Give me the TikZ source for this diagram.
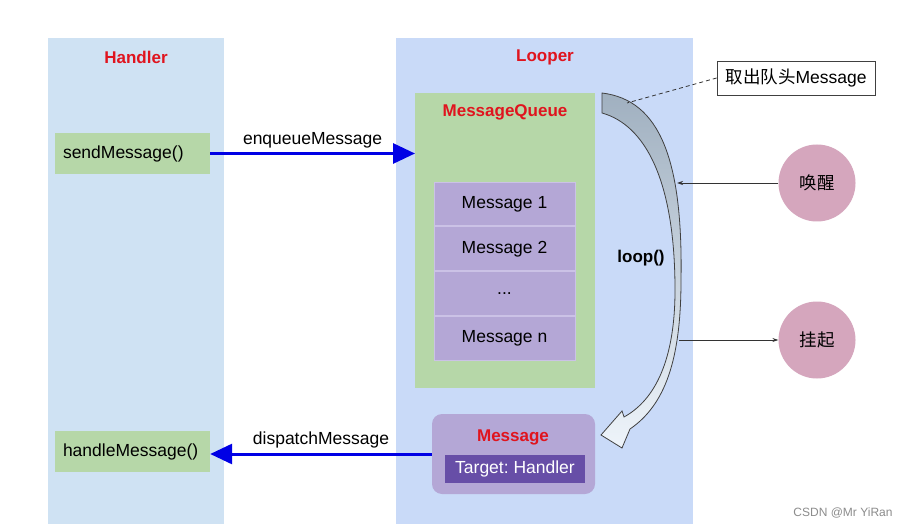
\documentclass[tikz,border=0pt]{standalone}
\usepackage{fontspec}
\setmainfont{Liberation Sans}
\newfontfamily\cjk{Noto Sans CJK SC}
\usetikzlibrary{arrows.meta, positioning}
\usepackage{xcolor}
\definecolor{handlerblue}{HTML}{CFE2F3}
\definecolor{looperblue}{HTML}{C9DAF8}
\definecolor{boxgreen}{HTML}{B6D7A8}
\definecolor{msgpurple}{HTML}{B4A7D6}
\definecolor{msglight}{HTML}{CBC2E6}
\definecolor{darkpurple}{HTML}{674EA7}
\definecolor{titlered}{HTML}{E0141E}
\definecolor{wakepink}{HTML}{D5A6BD}
\definecolor{looptop}{HTML}{A0B0C0}
\definecolor{loopbottom}{HTML}{EEF4FA}
\frenchspacing

\begin{document}
\begin{tikzpicture}[
    x=1pt, y=-1pt,
    font=\fontsize{17.5}{20}\selectfont,
    panel/.style={rectangle, anchor=north west, inner sep=0pt},
    title/.style={font=\fontsize{17}{20}\selectfont\bfseries, text=titlered},
    methodbox/.style={rectangle, fill=boxgreen, minimum height=41pt, text width=139pt, inner xsep=8pt, inner ysep=0pt},
    msgrow/.style={rectangle, fill=msgpurple, draw=msglight, line width=1pt, minimum width=141pt, minimum height=43.75pt},
    statecircle/.style={circle, fill=wakepink, minimum size=77pt, inner sep=0pt, font=\fontsize{17.5}{20}\selectfont\cjk},
    bluearrow/.style={-{Triangle[length=22pt, width=20pt]}, draw=blue!90!black, line width=3pt},
    thinarrow/.style={-{Stealth[length=6pt, width=4pt]}, draw=black!80, line width=0.7pt}
]
\useasboundingbox[fill=white] (0,0) rectangle (917,529);

% panels
\node[panel, fill=handlerblue, minimum width=176pt, minimum height=486pt] (handler) at (48,38) {};
\node[panel, fill=looperblue, minimum width=297pt, minimum height=486pt] (looper) at (396,38) {};
\node[title] (htitle) at (136,57) {Handler};
\node[title] (ltitle) at (545,57) {Looper};

% handler side
\node[methodbox] (send) at (132.5,153.5) {sendMessage()};
\node[methodbox] (handle) at (132.5,451.5) {handleMessage()};

% message queue
\node[panel, fill=boxgreen, minimum width=180pt, minimum height=295pt] (queue) at (415,93) {};
\node[title] (qtitle) at (505,112) {MessageQueue};
\node[msgrow] (msg1) at (504.5,204) {Message 1};
\node[msgrow, below=0pt of msg1] (msg2) {Message 2};
\node[msgrow, below=0pt of msg2] (msg3) {...};
\node[msgrow, below=0pt of msg3] (msgn) {Message n};

% current message
\node[rectangle, rounded corners=10pt, fill=msgpurple, minimum width=163pt, minimum height=80pt] (current) at (513.5,454) {};
\node[title] (ctitle) at (513,437) {Message};
\node[rectangle, fill=darkpurple, text=white, minimum width=140pt, minimum height=28pt, inner sep=0pt] (target) at (515,469) {Target: Handler};

% loop arrow
\draw[draw=black!75, line width=0.8pt, top color=looptop, bottom color=loopbottom]
  (602,93) .. controls (660,100) and (683,160) .. (681,280)
  .. controls (681,360) and (665,405) .. (630,429)
  -- (622,448) -- (601,435) -- (622,411) -- (624,417)
  .. controls (655,400) and (675,360) .. (675,290)
  .. controls (675,180) and (645,125) .. (602,113) -- cycle;
\node[font=\fontsize{17}{20}\selectfont\bfseries] (loop) at (641,258) {loop()};
\coordinate (head) at (627,103);
\coordinate (wake) at (677,183);
\coordinate (hang) at (679,340);

% callout and states
\node[rectangle, draw=black!75, fill=white, line width=0.8pt, minimum width=158pt, minimum height=34pt] (callout) at (796,78) {{\cjk 取出队头}Message};
\node[statecircle] (wakeup) at (817,183) {唤醒};
\node[statecircle] (suspend) at (817,340) {挂起};

\draw[dash pattern=on 4pt off 3pt, draw=black!80, line width=0.8pt] (callout.west) -- (head);
\draw[thinarrow] (wakeup) -- (wake);
\draw[thinarrow] (hang) -- (suspend);

% messages
\draw[bluearrow] (send.east) -- node[above=1pt, text=black] {enqueueMessage} (queue.west |- send.east);
\draw[bluearrow] (current.west) -- node[above=1pt, text=black] {dispatchMessage} (handle.east |- current.west);

\node[text=black!45, font=\fontsize{12}{14}\selectfont] (mark) at (843,513) {CSDN @Mr YiRan};
\end{tikzpicture}
\end{document}
